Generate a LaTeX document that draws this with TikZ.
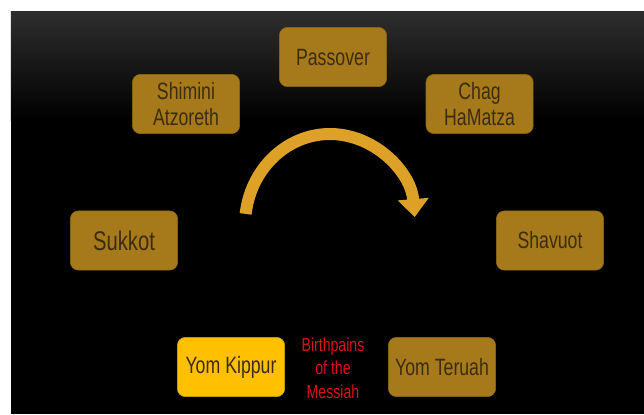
\documentclass[tikz,border=0pt]{standalone}
\usepackage{fontspec}
\usetikzlibrary{arrows.meta}
\newfontfamily\feastfont{Liberation Sans}[FakeStretch=0.75]
\definecolor{feastgold}{RGB}{166,122,27}
\definecolor{kippurgold}{RGB}{255,192,0}
\definecolor{feasttext}{RGB}{60,44,16}
\definecolor{arcgold}{RGB}{222,161,40}
\definecolor{painred}{RGB}{218,18,28}
\definecolor{topgray}{RGB}{46,46,46}
\begin{document}
\begin{tikzpicture}[align=center,
		feast/.style={minimum height=1.48cm, minimum width=2.68cm, rounded corners=0.2cm, fill=feastgold, draw=feastgold!85!black, line width=0.4pt, text=feasttext, font=\feastfont\fontsize{16.8}{18.5}\selectfont},
		today/.style={feast, fill=kippurgold, draw=kippurgold!85!black}]
		
		\useasboundingbox (0,0) rectangle (16.1,10.35);
		\fill[white] (0,0) rectangle (16.1,10.35);
		\fill[black] (0.275,0) rectangle (16.1,7.4);
		\shade[top color=topgray, bottom color=black] (0.275,10.075) rectangle (16.1,7.35);
		
		\node[feast] (passover) at (8.325,8.925) {Passover};
		\node[feast] (shimini) at (4.65,7.75) {Shimini\\Atzoreth};
		\node[feast] (chag) at (11.99,7.75) {Chag\\HaMatza};
		\node[feast, font=\feastfont\fontsize{19.2}{21}\selectfont] (sukkot) at (3.1,4.3375) {Sukkot};
		\node[feast] (shavuot) at (13.75,4.3375) {Shavuot};
		\node[today] (kippur) at (5.775,1.175) {Yom Kippur};
		\node[feast] (teruah) at (11.05,1.175) {Yom Teruah};
		
		\node[text=painred, font=\feastfont\fontsize{13.4}{16.7}\selectfont] (pains) at (8.325,1.15) {Birthpains\\of the\\Messiah};
		
		\coordinate (arcstart) at (6.141,5.002);
		\draw[arcgold, line width=0.3cm, -{Triangle[length=0.45cm, width=0.75cm]}] (arcstart) arc[start angle=173, end angle=5, x radius=2.125cm, y radius=2.275cm];
	\end{tikzpicture}
\end{document}
